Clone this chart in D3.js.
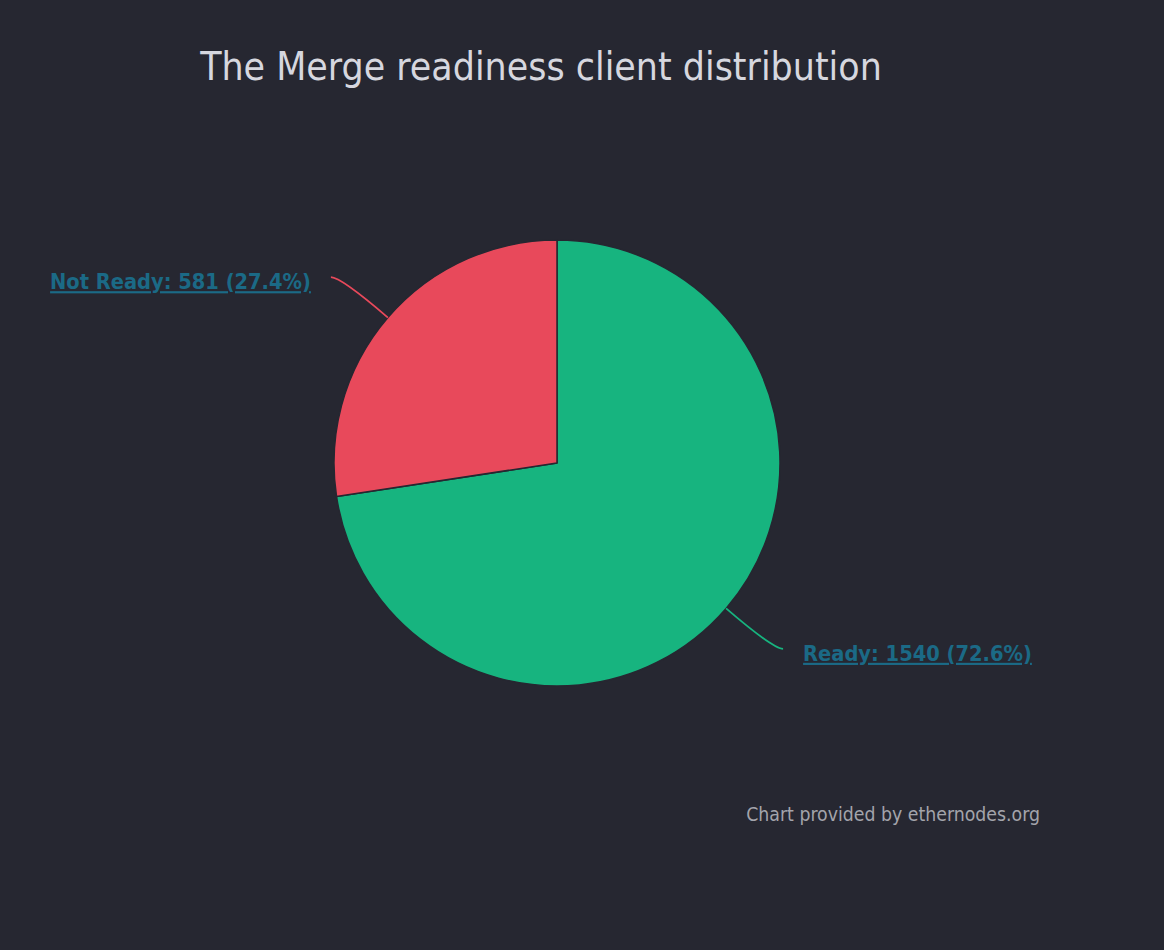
<!DOCTYPE html>
<html><head><meta charset="utf-8">
<script src="https://cdn.jsdelivr.net/npm/d3@7"></script>
<style>html,body{margin:0;padding:0;background:#262731;}svg{display:block;}</style>
</head><body>
<svg id="chart" width="1164" height="950"></svg>
<script>
const categories = ["Ready", "Not Ready"];
const values = [1540, 581];
const colors = ["#17b47f", "#e8495b"];
const titleText = "The Merge readiness client distribution";
const creditText = "Chart provided by ethernodes.org";

const W = 1164, H = 950;
const svg = d3.select("#chart");
svg.append("rect").attr("width", W).attr("height", H).attr("fill", "#262731");

function fitText(sel, targetWidth, baseSize) {
  sel.attr("font-size", baseSize);
  const w = sel.node().getComputedTextLength();
  sel.attr("font-size", baseSize * targetWidth / w);
}

const title = svg.append("text").attr("x", 541).attr("y", 80)
  .attr("text-anchor", "middle").attr("fill", "#d6d7df")
  .attr("font-family", "'DejaVu Sans Condensed', 'DejaVu Sans'").text(titleText);
fitText(title, 682, 36);

const cx = 557, cy = 463, r = 223;
const total = d3.sum(values);
const data = categories.map((c, i) => ({ name: c, value: values[i], color: colors[i] }));
const pie = d3.pie().value(d => d.value).sort(null).startAngle(0).endAngle(2 * Math.PI);
const arcs = pie(data);
const arc = d3.arc().innerRadius(0).outerRadius(r);

const g = svg.append("g").attr("transform", `translate(${cx},${cy})`);
g.selectAll("path.slice").data(arcs).join("path").attr("class", "slice")
  .attr("d", arc).attr("fill", d => d.data.color)
  .attr("stroke", "#262731").attr("stroke-width", 1.5).attr("stroke-linejoin", "round");

const fmt = d3.format(".1f");
arcs.forEach(a => {
  const mid = (a.startAngle + a.endAngle) / 2;
  const sx = Math.sin(mid), sy = -Math.cos(mid);
  const side = sx >= 0 ? 1 : -1;
  const p0 = [sx * r, sy * r];
  const R = r + 62;
  const p1 = [sx * R + side * 10, sy * R];
  // control point: where the radial line meets the label's horizontal line
  const k = (p1[1] - p0[1]) / sy;
  const c = [p0[0] + sx * k, p1[1]];
  g.append("path")
    .attr("d", `M${p0[0]},${p0[1]} Q${c[0]},${c[1]} ${p1[0]},${p1[1]}`)
    .attr("fill", "none").attr("stroke", a.data.color).attr("stroke-width", 1.8);
  const t = g.append("text")
    .attr("x", p1[0] + side * 20).attr("y", p1[1] + 12)
    .attr("text-anchor", side > 0 ? "start" : "end")
    .attr("fill", "#1b6a86").attr("font-weight", "bold")
    .attr("font-family", "'DejaVu Sans Condensed', 'DejaVu Sans'")
    .attr("text-decoration", "underline")
    .text(`${a.data.name}: ${a.data.value} (${fmt(a.data.value / total * 100)}%)`);
  fitText(t, a.data.name === "Ready" ? 229 : 261, 20);
});

const credit = svg.append("text").attr("x", 1040).attr("y", 821)
  .attr("text-anchor", "end").attr("fill", "#a3a4ab")
  .attr("font-family", "'DejaVu Sans Condensed', 'DejaVu Sans'").text(creditText);
fitText(credit, 294, 17);
</script>
</body></html>
